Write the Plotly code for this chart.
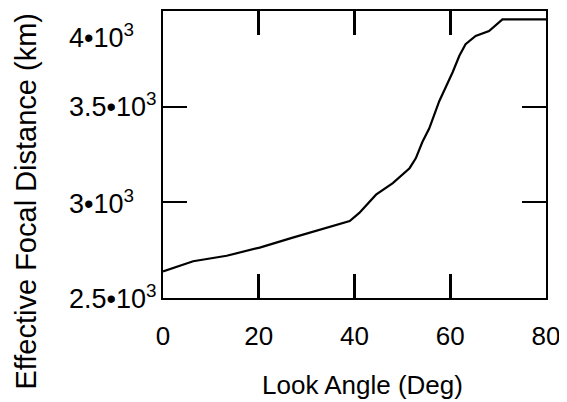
import plotly.graph_objects as go

# Data
look_angle = [0, 6.3, 13.3, 20.2, 27.1, 34.1, 39, 41, 44.5, 48, 51.5, 52.8, 54.2,
              55.6, 57.7, 60.5, 61.9, 63.2, 65.3, 68.1, 70.9, 80]
focal_dist = [2637, 2690, 2719, 2762, 2814, 2866, 2901, 2944, 3040, 3101, 3179, 3231, 3318,
              3387, 3531, 3683, 3770, 3831, 3874, 3900, 3961, 3961]

x_ticks = [0, 20, 40, 60, 80]
y_label_vals = [2500, 3000, 3500, 4000]
y_label_text = ["2.5•10<sup>3</sup>", "3•10<sup>3</sup>", "3.5•10<sup>3</sup>", "4•10<sup>3</sup>"]
y_tick_marks = [3000, 3500]

FONT = "Liberation Sans, Arial, Helvetica, sans-serif"

fig = go.Figure()
fig.add_trace(go.Scatter(x=look_angle, y=focal_dist, mode="lines",
                         line=dict(color="black", width=2.2), showlegend=False))

# page body has an 8px margin; figure sized to fit the 567x402 window
fig.update_layout(
    width=559, height=394,
    margin=dict(l=155, r=21, t=1, b=104),
    paper_bgcolor="white", plot_bgcolor="white",
    font=dict(family=FONT, color="black"),
    xaxis=dict(range=[0, 80], tickvals=x_ticks, ticks="inside", ticklen=24, tickwidth=3,
               tickcolor="black", showline=True, linewidth=2, linecolor="black",
               mirror="ticks", showgrid=False, zeroline=False,
               tickfont=dict(size=26, family=FONT, color="black"),
               ticklabelstandoff=14),
    yaxis=dict(range=[2497, 4005], tickvals=y_tick_marks, ticks="inside", ticklen=24,
               tickwidth=2, tickcolor="black", showline=True, linewidth=2, linecolor="black",
               mirror="ticks", showgrid=False, zeroline=False, showticklabels=False),
)

shifts = [0, 0, 2, -24]
for v, t, s in zip(y_label_vals, y_label_text, shifts):
    fig.add_annotation(x=-0.25, xref="paper", y=v, yref="y", text=t, showarrow=False,
                       xanchor="left", yanchor="middle", yshift=s,
                       font=dict(size=27, family=FONT, color="black"))

fig.add_annotation(x=-0.358, xref="paper", y=0.339, yref="paper",
                   text="Effective Focal Distance (km)", textangle=-90, showarrow=False,
                   xanchor="center", yanchor="middle",
                   font=dict(size=29, family=FONT, color="black"))
fig.add_annotation(x=0.521, xref="paper", y=-0.3045, yref="paper",
                   text="Look Angle (Deg)", showarrow=False,
                   xanchor="center", yanchor="middle",
                   font=dict(size=26, family=FONT, color="black"))

fig.write_html("out.html")
